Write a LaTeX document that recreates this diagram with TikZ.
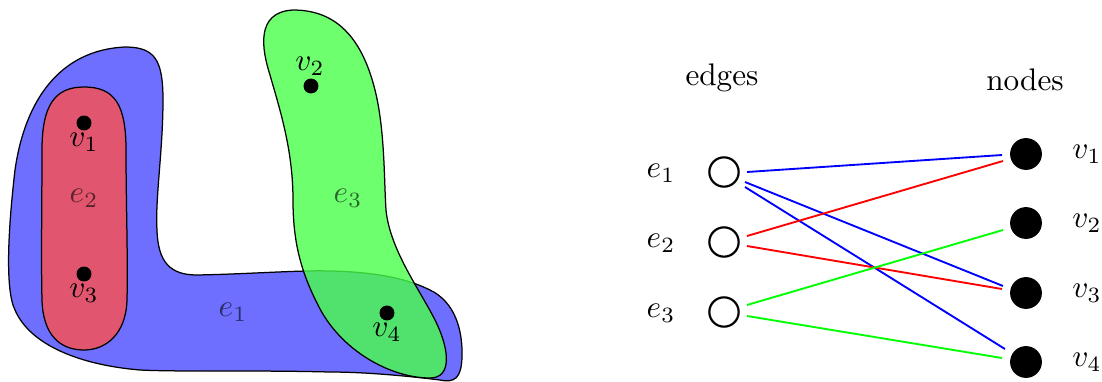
\documentclass[tikz,border=0pt]{standalone}
\usetikzlibrary{calc}
\definecolor{blobblue}{RGB}{110,110,255}
\definecolor{blobred}{RGB}{225,85,110}
\definecolor{blobgreen}{RGB}{74,255,74}
\begin{document}
\begin{tikzpicture}[x=0.3204pt,y=-0.3204pt,
  blob/.style={draw=black, line width=0.4pt},
  dot/.style={circle, fill=black, inner sep=0pt, minimum size=4.8pt},
  enode/.style={circle, draw=black, line width=0.7pt, inner sep=0pt, minimum size=9.4pt},
  vnode/.style={circle, fill=black, inner sep=0pt, minimum size=10.2pt},
  lbl/.style={inner sep=0pt},
  hlbl/.style={inner sep=0pt, text opacity=0.6},
  link/.style={line width=0.6pt}]
\useasboundingbox (0,0) rectangle (1102,381);
% blue hyperedge e1
\path[blob, fill=blobblue] (125,47)
  .. controls (155,47) and (163,60) .. (163,100)
  .. controls (163,150) and (155,200) .. (157,230)
  .. controls (158,262) and (170,275) .. (197,275)
  .. controls (250,274) and (300,270) .. (330,271)
  .. controls (380,272) and (410,280) .. (430,290)
  .. controls (455,302) and (463,330) .. (462,358)
  .. controls (461,378) and (455,383) .. (440,380)
  .. controls (400,375) and (360,372) .. (330,372)
  .. controls (250,370) and (180,372) .. (140,370)
  .. controls (80,365) and (30,345) .. (15,310)
  .. controls (5,290) and (8,230) .. (15,170)
  .. controls (25,100) and (60,50) .. (125,47) -- cycle;
% red hyperedge e2
\path[blob, fill=blobred] (84,87)
  .. controls (115,87) and (126,105) .. (126,150)
  .. controls (126,200) and (128,260) .. (127,300)
  .. controls (126,335) and (105,350) .. (84,350)
  .. controls (60,350) and (43,335) .. (42,300)
  .. controls (41,260) and (42,200) .. (42,150)
  .. controls (42,105) and (55,87) .. (84,87) -- cycle;
\node[hlbl] (le1) at (233,312) {$e_1$};
\node[hlbl] (le2) at (84,198) {$e_2$};
% green hyperedge e3
\path[blob, fill=blobgreen, fill opacity=0.8] (293,10)
  .. controls (330,10) and (360,30) .. (375,90)
  .. controls (385,130) and (384,180) .. (386,210)
  .. controls (390,250) and (420,290) .. (435,320)
  .. controls (450,350) and (452,378) .. (430,378)
  .. controls (390,378) and (340,350) .. (318,305)
  .. controls (300,270) and (293,240) .. (293,200)
  .. controls (293,150) and (280,110) .. (270,75)
  .. controls (262,50) and (255,12) .. (293,10) -- cycle;
\node[hlbl] (le3) at (348,198) {$e_3$};
% vertices
\node[dot] (d1) at (84,123) {};
\node[dot] (d2) at (311,86) {};
\node[dot] (d3) at (84,274) {};
\node[dot] (d4) at (387,313) {};
\node[lbl] (ld1) at (84,142) {$v_1$};
\node[lbl] (ld2) at (310,66) {$v_2$};
\node[lbl] (ld3) at (84,293) {$v_3$};
\node[lbl] (ld4) at (387,332) {$v_4$};
% bipartite graph
\node[lbl] (edges) at (722,78) {edges};
\node[lbl] (nodes) at (1025,80) {nodes};
\node[enode] (e1) at (724,172) {};
\node[enode] (e2) at (724,242) {};
\node[enode] (e3) at (724,312) {};
\node[vnode] (v1) at (1026,154) {};
\node[vnode] (v2) at (1026,223) {};
\node[vnode] (v3) at (1026,293) {};
\node[vnode] (v4) at (1026,362) {};
\node[lbl] (te1) at (661,173) {$e_1$};
\node[lbl] (te2) at (661,243) {$e_2$};
\node[lbl] (te3) at (661,313) {$e_3$};
\node[lbl] (tv1) at (1087,154) {$v_1$};
\node[lbl] (tv2) at (1087,223) {$v_2$};
\node[lbl] (tv3) at (1087,293) {$v_3$};
\node[lbl] (tv4) at (1087,362) {$v_4$};
\draw[link, blue] ($(e1)+(23,0)$) -- ($(v1)+(-24,1)$);
\draw[link, blue] ($(e1)+(21,10)$) -- ($(v3)+(-23,-7)$);
\draw[link, blue] ($(e1)+(21,15)$) -- ($(v4)+(-21,-13)$);
\draw[link, red] ($(e2)+(23,-6)$) -- ($(v1)+(-23,7)$);
\draw[link, red] ($(e2)+(23,4)$) -- ($(v3)+(-24,-4)$);
\draw[link, green] ($(e3)+(23,-7)$) -- ($(v2)+(-23,7)$);
\draw[link, green] ($(e3)+(23,4)$) -- ($(v4)+(-24,-4)$);
\end{tikzpicture}
\end{document}
